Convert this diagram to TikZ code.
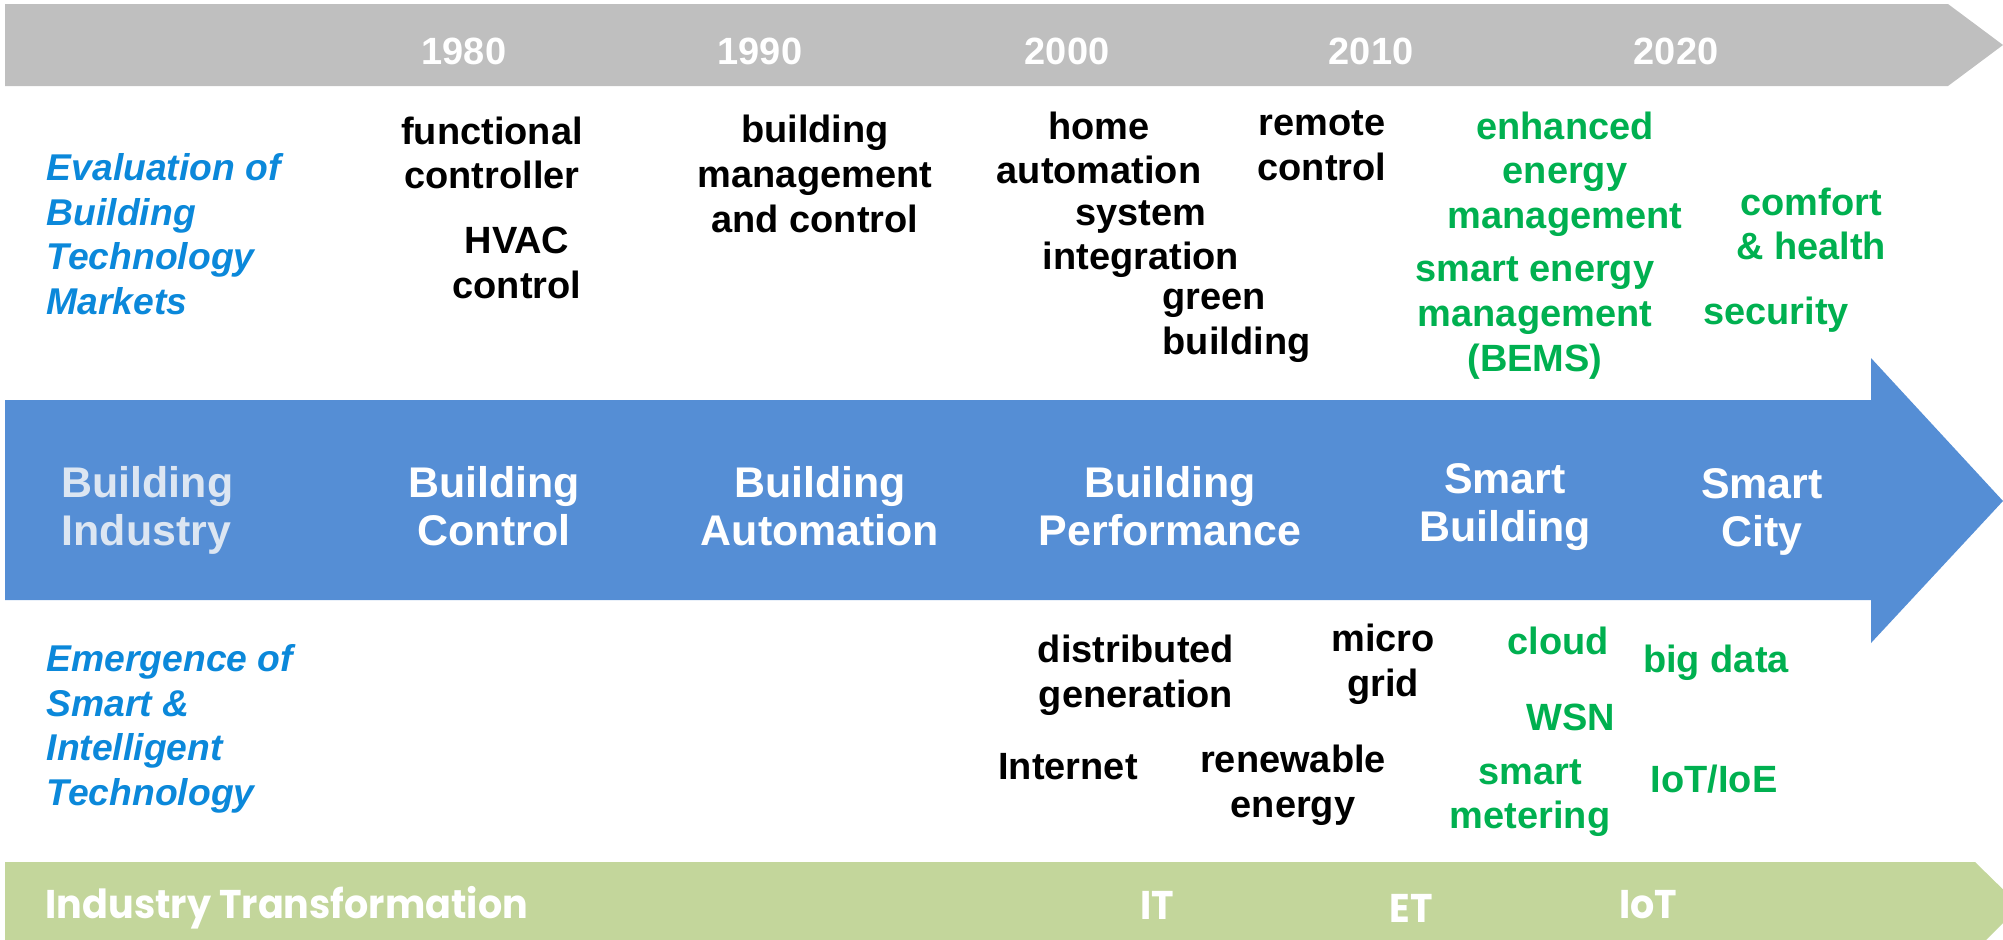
\documentclass[tikz,border=0pt]{standalone}
\usepackage{fontspec}
\setmainfont{Liberation Sans}
\newfontfamily\barfont{Poppins}[FakeStretch=0.95]
\definecolor{barGray}{HTML}{BFBFBF}
\definecolor{arrowBlue}{HTML}{558ED5}
\definecolor{barGreen}{HTML}{C3D69B}
\definecolor{textGreen}{HTML}{00B050}
\definecolor{labelBlue}{HTML}{0B88DA}
\definecolor{paleText}{HTML}{DCE6F2}
\begin{document}
\begin{tikzpicture}[x=0.01cm,y=-0.01cm,
		txt/.style={font=\bfseries\fontsize{10.8}{12.7}\selectfont, align=center, inner sep=0pt},
		blk/.style={txt, text=black},
		grn/.style={txt, text=textGreen},
		yr/.style={txt, text=white},
		mkt/.style={font=\bfseries\itshape\fontsize{10.6}{12.7}\selectfont, align=left, text=labelBlue, inner sep=0pt, anchor=west},
		era/.style={font=\bfseries\fontsize{12.2}{13.6}\selectfont, align=center, text=white, inner sep=0pt},
		transbar/.style={font=\barfont\bfseries\fontsize{11.4}{13}\selectfont, text=white, inner sep=0pt},]

\useasboundingbox (0,0) rectangle (2003,939);

% the three bands
\fill[barGray] (5,4) -- (1948,4) -- (2003,45) -- (1948,86) -- (5,86) -- cycle;
\fill[arrowBlue] (5,400) -- (1871,400) -- (1871,358) -- (2003,501)
		-- (1871,643) -- (1871,600) -- (5,600) -- cycle;
\fill[barGreen] (5,862) -- (1975,862) -- (2020,906) -- (1975,951) -- (5,951) -- cycle;

% years
\node[yr] (y1980) at (464,51) {1980};
\node[yr] (y1990) at (760,51) {1990};
\node[yr] (y2000) at (1067,51) {2000};
\node[yr] (y2010) at (1371,51) {2010};
\node[yr] (y2020) at (1676,51) {2020};

% markets
\node[mkt] (markets) at (46,234) {Evaluation of\\Building\\Technology\\Markets};
\node[blk] (functional) at (492,153) {functional\\controller};
\node[blk] (hvac) at (517,263) {HVAC\\control};
\node[blk] (bms) at (815,174) {building\\management\\and control};
\node[blk] (home) at (1099,148) {home\\automation};
\node[blk] (sysint) at (1141,239) {system\\integration};
\node[blk, align=left, anchor=west] (green) at (1162,326) {green\\building};
\node[blk] (remote) at (1322,146) {remote\\control};
\node[grn] (enhanced) at (1565,174) {enhanced\\energy\\management};
\node[grn] (bems) at (1535,318) {smart energy\\management\\(BEMS)};
\node[grn] (comfort) at (1811,224) {comfort\\\& health};
\node[grn] (security) at (1776,315) {security};

% eras
\node[era, text=paleText, align=left, anchor=west] (industry) at (61,510) {Building\\Industry};
\node[era] (control) at (494,506) {Building\\Control};
\node[era] (automation) at (820,506) {Building\\Automation};
\node[era] (performance) at (1170,506) {Building\\Performance};
\node[era] (smartbldg) at (1505,507) {Smart\\Building};
\node[era] (smartcity) at (1762,512) {Smart\\City};

% technology
\node[mkt] (smarttech) at (46,729) {Emergence of\\Smart \&\\Intelligent\\Technology};
\node[blk] (distgen) at (1136,675) {distributed\\generation};
\node[blk] (micro) at (1383,664) {micro\\grid};
\node[blk] (internet) at (1068,767) {Internet};
\node[blk] (renewable) at (1293,785) {renewable\\energy};
\node[grn] (cloud) at (1558,641) {cloud};
\node[grn] (wsn) at (1571,717) {WSN};
\node[grn] (metering) at (1530,798) {smart\\metering};
\node[grn] (bigdata) at (1716,663) {big data};
\node[grn] (iot) at (1714,779) {IoT/IoE};

% transformation
\node[transbar, anchor=west] (transform) at (45,908) {Industry Transformation};
\node[transbar] (it) at (1157,905) {IT};
\node[transbar] (et) at (1411,908) {ET};
\node[transbar] (iotbar) at (1648,905) {IoT};
\end{tikzpicture}
\end{document}
